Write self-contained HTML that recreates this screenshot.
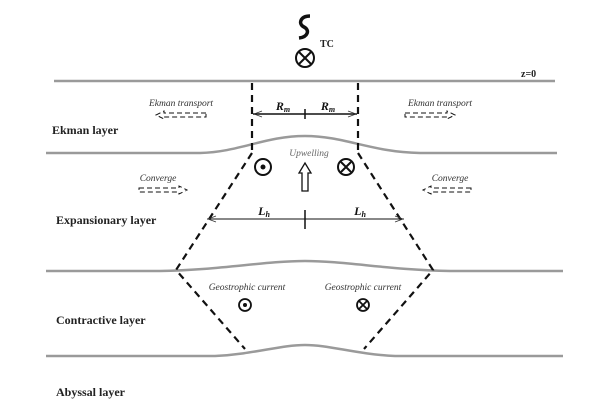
<!DOCTYPE html>
<html><head><style>
html,body{margin:0;padding:0;background:#fff;}
svg{display:block;}
.lay{font-family:"Liberation Serif",serif;font-weight:bold;font-size:12px;fill:#222;}
.it{font-family:"Liberation Serif",serif;font-style:italic;font-size:9.5px;fill:#333;}
.g{stroke:#9a9a9a;stroke-width:2.5;fill:none;}
.d{stroke:#111;stroke-width:2.2;stroke-dasharray:7,5;fill:none;}
.ha{stroke:#111;stroke-width:1;fill:none;stroke-dasharray:5,3;}
</style></head><body>
<svg width="600" height="405" viewBox="0 0 600 405" xmlns="http://www.w3.org/2000/svg">
<line x1="54" y1="81" x2="555" y2="81" class="g"/>
<path class="g" d="M46,153 L200,153 C240,152 265,136 305,136 C345,136 370,152 420,153 L557,153"/>
<path class="g" d="M46,271 L160,271 C220,270 265,261 305,261 C345,261 390,270 450,271 L563,271"/>
<path class="g" d="M46,356 L215,356 C255,354 280,345 305,345 C330,345 355,354 395,356 L563,356"/>
<line x1="252" y1="83" x2="252" y2="153" class="d"/>
<line x1="358" y1="83" x2="358" y2="153" class="d"/>
<polyline class="d" points="252,153 176,270 245,349"/>
<polyline class="d" points="358,153 433,270 364,349"/>
<line x1="253" y1="114" x2="357" y2="114" stroke="#111" stroke-width="1.6"/>
<path d="M262,111 L254,114 L262,117 M348,111 L356,114 L348,117" stroke="#333" stroke-width="0.8" fill="none"/>
<line x1="305" y1="109" x2="305" y2="119" stroke="#111" stroke-width="1.5"/>
<text x="283" y="110" class="it" style="font-size:12px;font-weight:bold;fill:#111" text-anchor="middle">R<tspan font-size="8" dy="2">m</tspan></text>
<text x="328" y="110" class="it" style="font-size:12px;font-weight:bold;fill:#111" text-anchor="middle">R<tspan font-size="8" dy="2">m</tspan></text>
<line x1="207" y1="219" x2="404" y2="219" stroke="#111" stroke-width="1"/>
<path d="M216,216 L208,219 L216,222 M395,216 L403,219 L395,222" stroke="#333" stroke-width="0.8" fill="none"/>
<line x1="305" y1="210" x2="305" y2="229" stroke="#111" stroke-width="1.5"/>
<text x="264" y="215" class="it" style="font-size:12px;font-weight:bold;fill:#111" text-anchor="middle">L<tspan font-size="8" dy="2">h</tspan></text>
<text x="360" y="215" class="it" style="font-size:12px;font-weight:bold;fill:#111" text-anchor="middle">L<tspan font-size="8" dy="2">h</tspan></text>
<path d="M310,16 C300,16 298,24 304,27 C310,30 308,37 299,38" stroke="#111" stroke-width="3.5" fill="none"/>
<circle cx="305" cy="58" r="9" stroke="#111" stroke-width="2" fill="none"/>
<path d="M299,52 L311,64 M311,52 L299,64" stroke="#111" stroke-width="2"/>
<text x="320" y="47" class="lay" style="font-size:10px">TC</text>
<text x="521" y="77" class="lay" style="font-size:10px">z=0</text>
<text x="52" y="134" class="lay">Ekman layer</text>
<text x="56" y="224" class="lay">Expansionary layer</text>
<text x="56" y="324" class="lay">Contractive layer</text>
<text x="56" y="396" class="lay">Abyssal layer</text>
<text x="181" y="106" class="it" text-anchor="middle">Ekman transport</text>
<text x="440" y="106" class="it" text-anchor="middle">Ekman transport</text>
<text x="158" y="181" class="it" text-anchor="middle">Converge</text>
<text x="450" y="181" class="it" text-anchor="middle">Converge</text>
<text x="309" y="156" class="it" text-anchor="middle" style="fill:#666">Upwelling</text>
<text x="247" y="290" class="it" text-anchor="middle">Geostrophic current</text>
<text x="363" y="290" class="it" text-anchor="middle">Geostrophic current</text>
<path class="ha" d="M206,113 L164,113 L164,111 L156,115 L164,119 L164,117 L206,117 Z"/>
<path class="ha" d="M405,113 L447,113 L447,111 L455,115 L447,119 L447,117 L405,117 Z"/>
<path class="ha" d="M139,188 L179,188 L179,186 L187,190 L179,194 L179,192 L139,192 Z"/>
<path class="ha" d="M471,188 L431,188 L431,186 L423,190 L431,194 L431,192 L471,192 Z"/>
<path d="M302,191 L302,173 L299,173 L305,163 L311,173 L308,173 L308,191 Z" stroke="#111" stroke-width="1.3" fill="#fff"/>
<circle cx="263" cy="167" r="8" stroke="#111" stroke-width="2" fill="none"/>
<circle cx="263" cy="167" r="2.5" fill="#111"/>
<circle cx="346" cy="167" r="8" stroke="#111" stroke-width="2" fill="none"/>
<path d="M341,162 L351,172 M351,162 L341,172" stroke="#111" stroke-width="2"/>
<circle cx="245" cy="305" r="6" stroke="#111" stroke-width="1.8" fill="none"/>
<circle cx="245" cy="305" r="2" fill="#111"/>
<circle cx="363" cy="305" r="6" stroke="#111" stroke-width="1.8" fill="none"/>
<path d="M359,301 L367,309 M367,301 L359,309" stroke="#111" stroke-width="1.8"/>
</svg>
</body></html>
